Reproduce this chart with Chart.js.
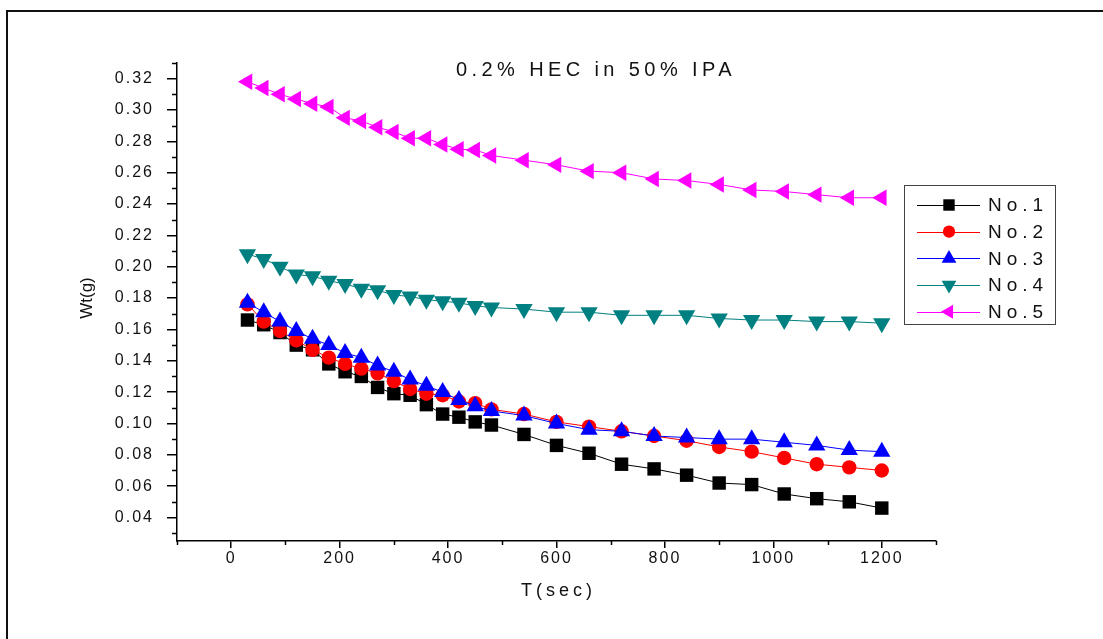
<!DOCTYPE html>
<html>

<head>
    <title>Wt(g) vs T(sec)</title>
    <script src="https://cdn.jsdelivr.net/npm/chart.js"></script>
    <style>
        body {
            margin: 0;
            padding: 0;
            background: white;
        }

        .chart-box {
            width: 1103px;
            height: 639px;
        }
    </style>
</head>

<body>
    <div class="chart-box">
        <canvas id="wtChart" width="1103" height="639"></canvas>
    </div>

    <script>
        // sampling times (sec)
        const times = [30, 60, 90, 120, 150, 180, 210, 240, 270, 300, 330, 360, 390, 420, 450, 480,
            540, 600, 660, 720, 780, 840, 900, 960, 1020, 1080, 1140, 1200];

        // weight (g) of each sample
        const no1 = [0.166, 0.163, 0.158, 0.150, 0.147, 0.138, 0.133, 0.130, 0.123, 0.119, 0.118, 0.112, 0.106, 0.104,
            0.101, 0.099, 0.093, 0.086, 0.081, 0.074, 0.071, 0.067, 0.062, 0.061, 0.055, 0.052, 0.050, 0.046];
        const no2 = [0.176, 0.165, 0.159, 0.153, 0.147, 0.142, 0.138, 0.135, 0.132, 0.127, 0.122, 0.119, 0.118, 0.114,
            0.113, 0.109, 0.106, 0.101, 0.098, 0.095, 0.092, 0.089, 0.085, 0.082, 0.078, 0.074, 0.072, 0.070];
        const no3 = [0.177, 0.171, 0.165, 0.159, 0.154, 0.150, 0.145, 0.142, 0.137, 0.133, 0.128, 0.124, 0.120, 0.115,
            0.111, 0.108, 0.105, 0.100, 0.096, 0.095, 0.092, 0.091, 0.090, 0.090, 0.088, 0.086, 0.083, 0.082];
        const no4 = [0.208, 0.205, 0.200, 0.195, 0.194, 0.191, 0.189, 0.186, 0.185, 0.182, 0.181, 0.179, 0.178, 0.177,
            0.175, 0.174, 0.173, 0.171, 0.171, 0.169, 0.169, 0.169, 0.167, 0.166, 0.166, 0.165, 0.165, 0.164];
        const no5 = [0.318, 0.314, 0.310, 0.307, 0.304, 0.302, 0.295, 0.293, 0.289, 0.286, 0.282, 0.282, 0.278, 0.275,
            0.2745, 0.271, 0.268, 0.265, 0.261, 0.260, 0.256, 0.255, 0.2525, 0.249, 0.248, 0.246, 0.244, 0.244];

        const seriesNames = ['No.1', 'No.2', 'No.3', 'No.4', 'No.5'];

        // axis ticks
        const xTicks = [0, 200, 400, 600, 800, 1000, 1200];
        const xMinorTicks = [-100, 100, 300, 500, 700, 900, 1100, 1300];
        const yTicks = [0.04, 0.06, 0.08, 0.10, 0.12, 0.14, 0.16, 0.18, 0.20, 0.22, 0.24, 0.26, 0.28, 0.30, 0.32];
        const yMinorTicks = [0.03, 0.05, 0.07, 0.09, 0.11, 0.13, 0.15, 0.17, 0.19, 0.21, 0.23, 0.25, 0.27, 0.29, 0.31, 0.33];

        const titleText = '0.2% HEC in 50% IPA';
        const yTitle = 'Wt(g)';
        const xTitle = 'T(sec)';

        const FONT = 'Arial, "Liberation Sans", sans-serif';

        const styles = [
            { color: '#000000', pointStyle: 'rect', radius: 9.5, rotation: 0 },
            { color: '#ff0000', pointStyle: 'circle', radius: 7.2, rotation: 0 },
            { color: '#0000ff', pointStyle: 'triangle', radius: 10, rotation: 0 },
            { color: '#008080', pointStyle: 'triangle', radius: 10, rotation: 180 },
            { color: '#ff00ff', pointStyle: 'triangle', radius: 9.5, rotation: 270 }
        ];

        const seriesValues = [no1, no2, no3, no4, no5];

        const datasets = seriesValues.map((vals, i) => ({
            label: seriesNames[i],
            data: times.map((t, k) => ({ x: t, y: vals[k] })),
            borderColor: styles[i].color,
            backgroundColor: styles[i].color,
            borderWidth: 1,
            pointStyle: styles[i].pointStyle,
            pointRadius: styles[i].radius,
            pointRotation: styles[i].rotation,
            pointBorderWidth: 0,
            pointBackgroundColor: styles[i].color,
            pointHoverRadius: styles[i].radius,
            order: seriesNames.length - i,
            tension: 0,
            fill: false
        }));

        // frame, minor ticks, titles and the legend box
        const extras = {
            id: 'extras',
            beforeDraw(chart) {
                const ctx = chart.ctx;
                ctx.fillStyle = '#ffffff';
                ctx.fillRect(0, 0, chart.width, chart.height);
                ctx.letterSpacing = '2px';
            },
            afterDraw(chart) {
                const ctx = chart.ctx;
                const area = chart.chartArea;
                const xs = chart.scales.x;
                const ys = chart.scales.y;
                ctx.save();

                // outer frame
                ctx.fillStyle = '#111111';
                ctx.fillRect(6, 10, chart.width - 6, 2);
                ctx.fillRect(6, 10, 2, chart.height - 10);

                // minor ticks
                ctx.strokeStyle = '#000000';
                ctx.lineWidth = 1.5;
                ctx.beginPath();
                xMinorTicks.forEach(v => {
                    const px = Math.round(xs.getPixelForValue(v)) + 0.5;
                    ctx.moveTo(px, area.bottom);
                    ctx.lineTo(px, area.bottom + 4);
                });
                yMinorTicks.forEach(v => {
                    const py = Math.round(ys.getPixelForValue(v)) + 0.5;
                    ctx.moveTo(area.left - 5, py);
                    ctx.lineTo(area.left, py);
                });
                ctx.stroke();

                // chart title
                ctx.fillStyle = '#111111';
                ctx.letterSpacing = '4.4px';
                ctx.font = '20px ' + FONT;
                ctx.textAlign = 'left';
                ctx.textBaseline = 'middle';
                ctx.fillText(titleText, 456, 70);

                // x axis title
                ctx.letterSpacing = '4px';
                ctx.font = '18px ' + FONT;
                ctx.textAlign = 'center';
                ctx.fillText(xTitle, (area.left + area.right) / 2 + 2, 591);

                // y axis title, no spacing
                ctx.save();
                ctx.letterSpacing = '0px';
                ctx.font = '17px ' + FONT;
                ctx.textAlign = 'center';
                ctx.translate(87, 298);
                ctx.rotate(-Math.PI / 2);
                ctx.fillText(yTitle, 0, 0);
                ctx.restore();

                // legend
                const lx = 904, ly = 185, lw = 151, lh = 139;
                ctx.strokeStyle = '#444444';
                ctx.lineWidth = 1;
                ctx.strokeRect(lx + 0.5, ly + 0.5, lw, lh);
                ctx.font = '19px ' + FONT;
                ctx.letterSpacing = '5px';
                ctx.textAlign = 'left';
                ctx.textBaseline = 'middle';
                chart.data.datasets.forEach((ds, i) => {
                    const rowY = ly + 20 + i * 26.7;
                    ctx.strokeStyle = ds.borderColor;
                    ctx.lineWidth = 1;
                    ctx.beginPath();
                    ctx.moveTo(lx + 13, Math.round(rowY) + 0.5);
                    ctx.lineTo(lx + 76, Math.round(rowY) + 0.5);
                    ctx.stroke();
                    ctx.fillStyle = ds.pointBackgroundColor;
                    Chart.helpers.drawPoint(ctx, {
                        pointStyle: ds.pointStyle,
                        rotation: ds.pointRotation,
                        radius: ds.pointRadius * 0.85,
                        borderWidth: 0
                    }, lx + 45, rowY);
                    ctx.fillStyle = '#111111';
                    ctx.fillText(ds.label, lx + 84, rowY + 1);
                });

                ctx.restore();
            }
        };

        new Chart(document.getElementById('wtChart').getContext('2d'), {
            type: 'line',
            data: { datasets: datasets },
            options: {
                responsive: false,
                animation: false,
                devicePixelRatio: 1,
                layout: {
                    padding: { top: 63, right: 167, bottom: 0, left: 0 }
                },
                plugins: {
                    legend: { display: false },
                    tooltip: { enabled: false },
                    title: { display: false }
                },
                scales: {
                    x: {
                        type: 'linear',
                        min: -100,
                        max: 1300,
                        afterBuildTicks: axis => { axis.ticks = xTicks.map(v => ({ value: v })); },
                        afterFit: axis => { axis.height = 98; },
                        grid: {
                            drawOnChartArea: false,
                            tickLength: 7,
                            color: '#000000',
                            lineWidth: 1.5
                        },
                        border: { display: true, color: '#000000', width: 1.5 },
                        ticks: {
                            autoSkip: false,
                            maxRotation: 0,
                            padding: 1,
                            color: '#111111',
                            font: { family: FONT, size: 16 },
                            callback: v => String(v)
                        }
                    },
                    y: {
                        type: 'linear',
                        min: 0.025,
                        max: 0.33,
                        afterBuildTicks: axis => { axis.ticks = yTicks.map(v => ({ value: v })); },
                        afterFit: axis => { axis.width = 177; },
                        grid: {
                            drawOnChartArea: false,
                            tickLength: 10,
                            color: '#000000',
                            lineWidth: 1.5
                        },
                        border: { display: true, color: '#000000', width: 1.5 },
                        ticks: {
                            autoSkip: false,
                            padding: 13,
                            color: '#111111',
                            font: { family: FONT, size: 16 },
                            callback: v => v.toFixed(2)
                        }
                    }
                }
            },
            plugins: [extras]
        });
    </script>
</body>

</html>
